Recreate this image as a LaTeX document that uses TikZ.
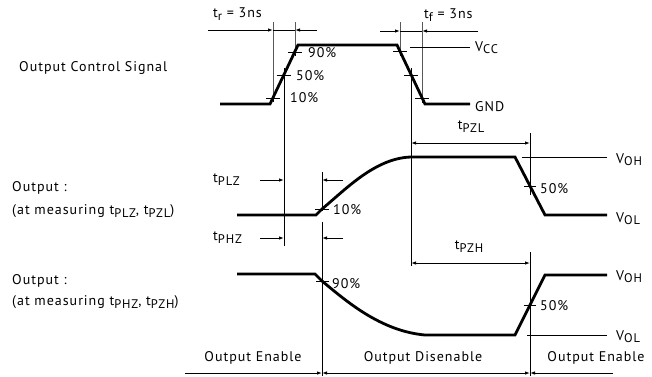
\documentclass[tikz,border=0pt]{standalone}
\usepackage{fontspec}
\setmainfont{PT Sans}[LetterSpace=7]
\usetikzlibrary{arrows.meta}
\newcommand{\lowtxt}[1]{\raisebox{-0.4ex}{\fontsize{12.5}{13}\selectfont #1}}
\begin{document}
\begin{tikzpicture}[x=1pt,y=-1pt,
  sig/.style={line width=2.8pt, line join=miter, line cap=butt},
  thin/.style={line width=0.9pt},
  arr/.style={thin,-{Latex[length=5pt,width=3.5pt]}},
  darr/.style={thin,{Latex[length=5pt,width=3.5pt]}-{Latex[length=5pt,width=3.5pt]}},
  lbl/.style={inner sep=0pt, font=\fontsize{14}{16}\selectfont},
  lvl/.style={lbl, anchor=base west}]
\useasboundingbox (0,0) rectangle (652,376);

% ---------- Output Control Signal ----------
\node[lbl, anchor=west] (ocs) at (19,68) {Output Control Signal};
\coordinate (r10) at (273,98);
\coordinate (r50) at (284,75);
\coordinate (r90) at (295,52);
\coordinate (f90) at (400,51);
\coordinate (f50) at (411,75);
\coordinate (f10) at (422,98);
\draw[sig] (220,104) -- (270,104) -- (298,45) -- (397,45) -- (425,104) -- (470,104);
% ticks
\foreach \p in {r10,r50,r90,f90,f50,f10} \draw[thin] ([xshift=-7pt]\p) -- ([xshift=7pt]\p);
% verticals
\draw[thin] (273,22) -- (r10) -- ++(0,4);
\draw[thin] (295,22) -- (r90) -- ++(0,4);
\draw[thin] (400,22) -- (f90) -- ++(0,5);
\draw[thin] (422,22) -- (f10) -- ++(0,5);
\coordinate (v284) at (284,246);
\coordinate (v411) at (411,266);
\draw[thin] (284,68) -- (v284);
\draw[thin] (411,68) -- (v411);
% tr / tf
\coordinate (trL) at (208,30);
\coordinate (trR) at (317,30);
\draw[arr] (trL) -- (273,30);
\draw[arr] (trR) -- (295,30);
\draw[thin] (273,30) -- (295,30);
\node[lbl, anchor=west] (tr) at (213,14) {t\lowtxt{r} = 3ns};
\coordinate (tfL) at (380,31);
\coordinate (tfR) at (478,31);
\draw[arr] (tfL) -- (400,31);
\draw[arr] (tfR) -- (422,31);
\draw[thin] (400,31) -- (422,31);
\node[lbl, anchor=west] (tf) at (424,15) {t\lowtxt{f} = 3ns};
% percent labels
\node[lbl, anchor=west] (p90) at (308,53) {90\%};
\node[lbl, anchor=west] (p50) at (296,76) {50\%};
\node[lbl, anchor=west] (p10) at (290,98) {10\%};
% Vcc / GND
\draw[thin] (410,47) -- (470,47);
\node[lvl] (vcc) at (475,51) {V\lowtxt{CC}};
\node[lvl] (gnd) at (475,111) {GND};

% ---------- Output (tPLZ, tPZL) ----------
\node[lbl, anchor=west] (o1a) at (12,188) {Output :};
\node[lbl, anchor=west] (o1b) at (12,211) {(at measuring t\lowtxt{PLZ}, t\lowtxt{PZL})};
\coordinate (a10) at (322,209);
\coordinate (a50) at (530,186);
\draw[sig] (237,215) -- (316,215) -- (a10) .. controls (345,190) and (375,158) .. (411,157) -- (515,157) -- (545,215) -- (607,215);
\draw[thin] ([xshift=-7pt]a10) -- ([xshift=7pt]a10);
\draw[thin] ([xshift=-6pt]a50) -- ([xshift=6pt]a50);
\node[lbl, anchor=west] (q10) at (333,210) {10\%};
\node[lbl, anchor=west] (q50) at (540,189) {50\%};
\draw[thin] (322,172) -- (322,211);
\draw[thin] (530,133) -- (530,195);
\draw[thin] (522,157) -- (607,157);
\node[lvl] (voh1) at (616,163) {V\lowtxt{OH}};
\node[lvl] (vol1) at (616,222) {V\lowtxt{OL}};
% tPLZ
\node[lbl, anchor=west] (tplz) at (213,180) {t\lowtxt{PLZ}};
\draw[arr] (260,180) -- (284,180);
\draw[arr] (343,180) -- (322,180);
% tPZL
\coordinate (pzlL) at (411,143);
\coordinate (pzlR) at (530,143);
\draw[darr] (pzlL) -- (pzlR);
\node[lbl] (tpzl) at (471,127) {t\lowtxt{PZL}};

% ---------- Output (tPHZ, tPZH) ----------
\node[lbl, anchor=west] (o2a) at (12,281) {Output :};
\node[lbl, anchor=west] (o2b) at (12,302) {(at measuring t\lowtxt{PHZ}, t\lowtxt{PZH})};
\coordinate (b90) at (322,281);
\coordinate (b50) at (530,305);
\draw[sig] (237,274) -- (315,274) -- (b90) .. controls (345,300) and (380,331) .. (425,335) -- (515,335) -- (545,275) -- (607,275);
\draw[thin] ([xshift=-6pt]b90) -- ([xshift=7pt]b90);
\draw[thin] ([xshift=-6pt]b50) -- ([xshift=6pt]b50);
\node[lbl, anchor=west] (r90l) at (332,284) {90\%};
\node[lbl, anchor=west] (r50l) at (540,306) {50\%};
\draw[thin] (527,335) -- (607,335);
\node[lvl] (voh2) at (616,280) {V\lowtxt{OH}};
\node[lvl] (vol2) at (616,340) {V\lowtxt{OL}};
% tPHZ
\node[lbl, anchor=west] (tphz) at (213,238) {t\lowtxt{PHZ}};
\draw[arr] (260,238) -- (284,238);
\draw[arr] (343,238) -- (322,238);
% tPZH
\coordinate (pzhL) at (411,263);
\coordinate (pzhR) at (530,263);
\draw[darr] (pzhL) -- (pzhR);
\node[lbl] (tpzh) at (469,247) {t\lowtxt{PZH}};
% long verticals
\draw[thin] (322,222) -- (322,376);
\draw[thin] (530,252) -- (530,376);

% ---------- bottom ----------
\coordinate (bL) at (185,373);
\coordinate (bA) at (322,373);
\coordinate (bB) at (530,373);
\coordinate (bR) at (613,373);
\draw[arr] (bL) -- (bA);
\draw[darr] (bA) -- (bB);
\draw[thin,{Latex[length=5pt,width=3.5pt]}-] (bB) -- (bR);
\node[lbl, anchor=base] (oe1) at (253,361) {Output Enable};
\node[lbl, anchor=base] (od) at (423,361) {Output Disenable};
\node[lbl, anchor=base] (oe2) at (596,361) {Output Enable};
\end{tikzpicture}
\end{document}
